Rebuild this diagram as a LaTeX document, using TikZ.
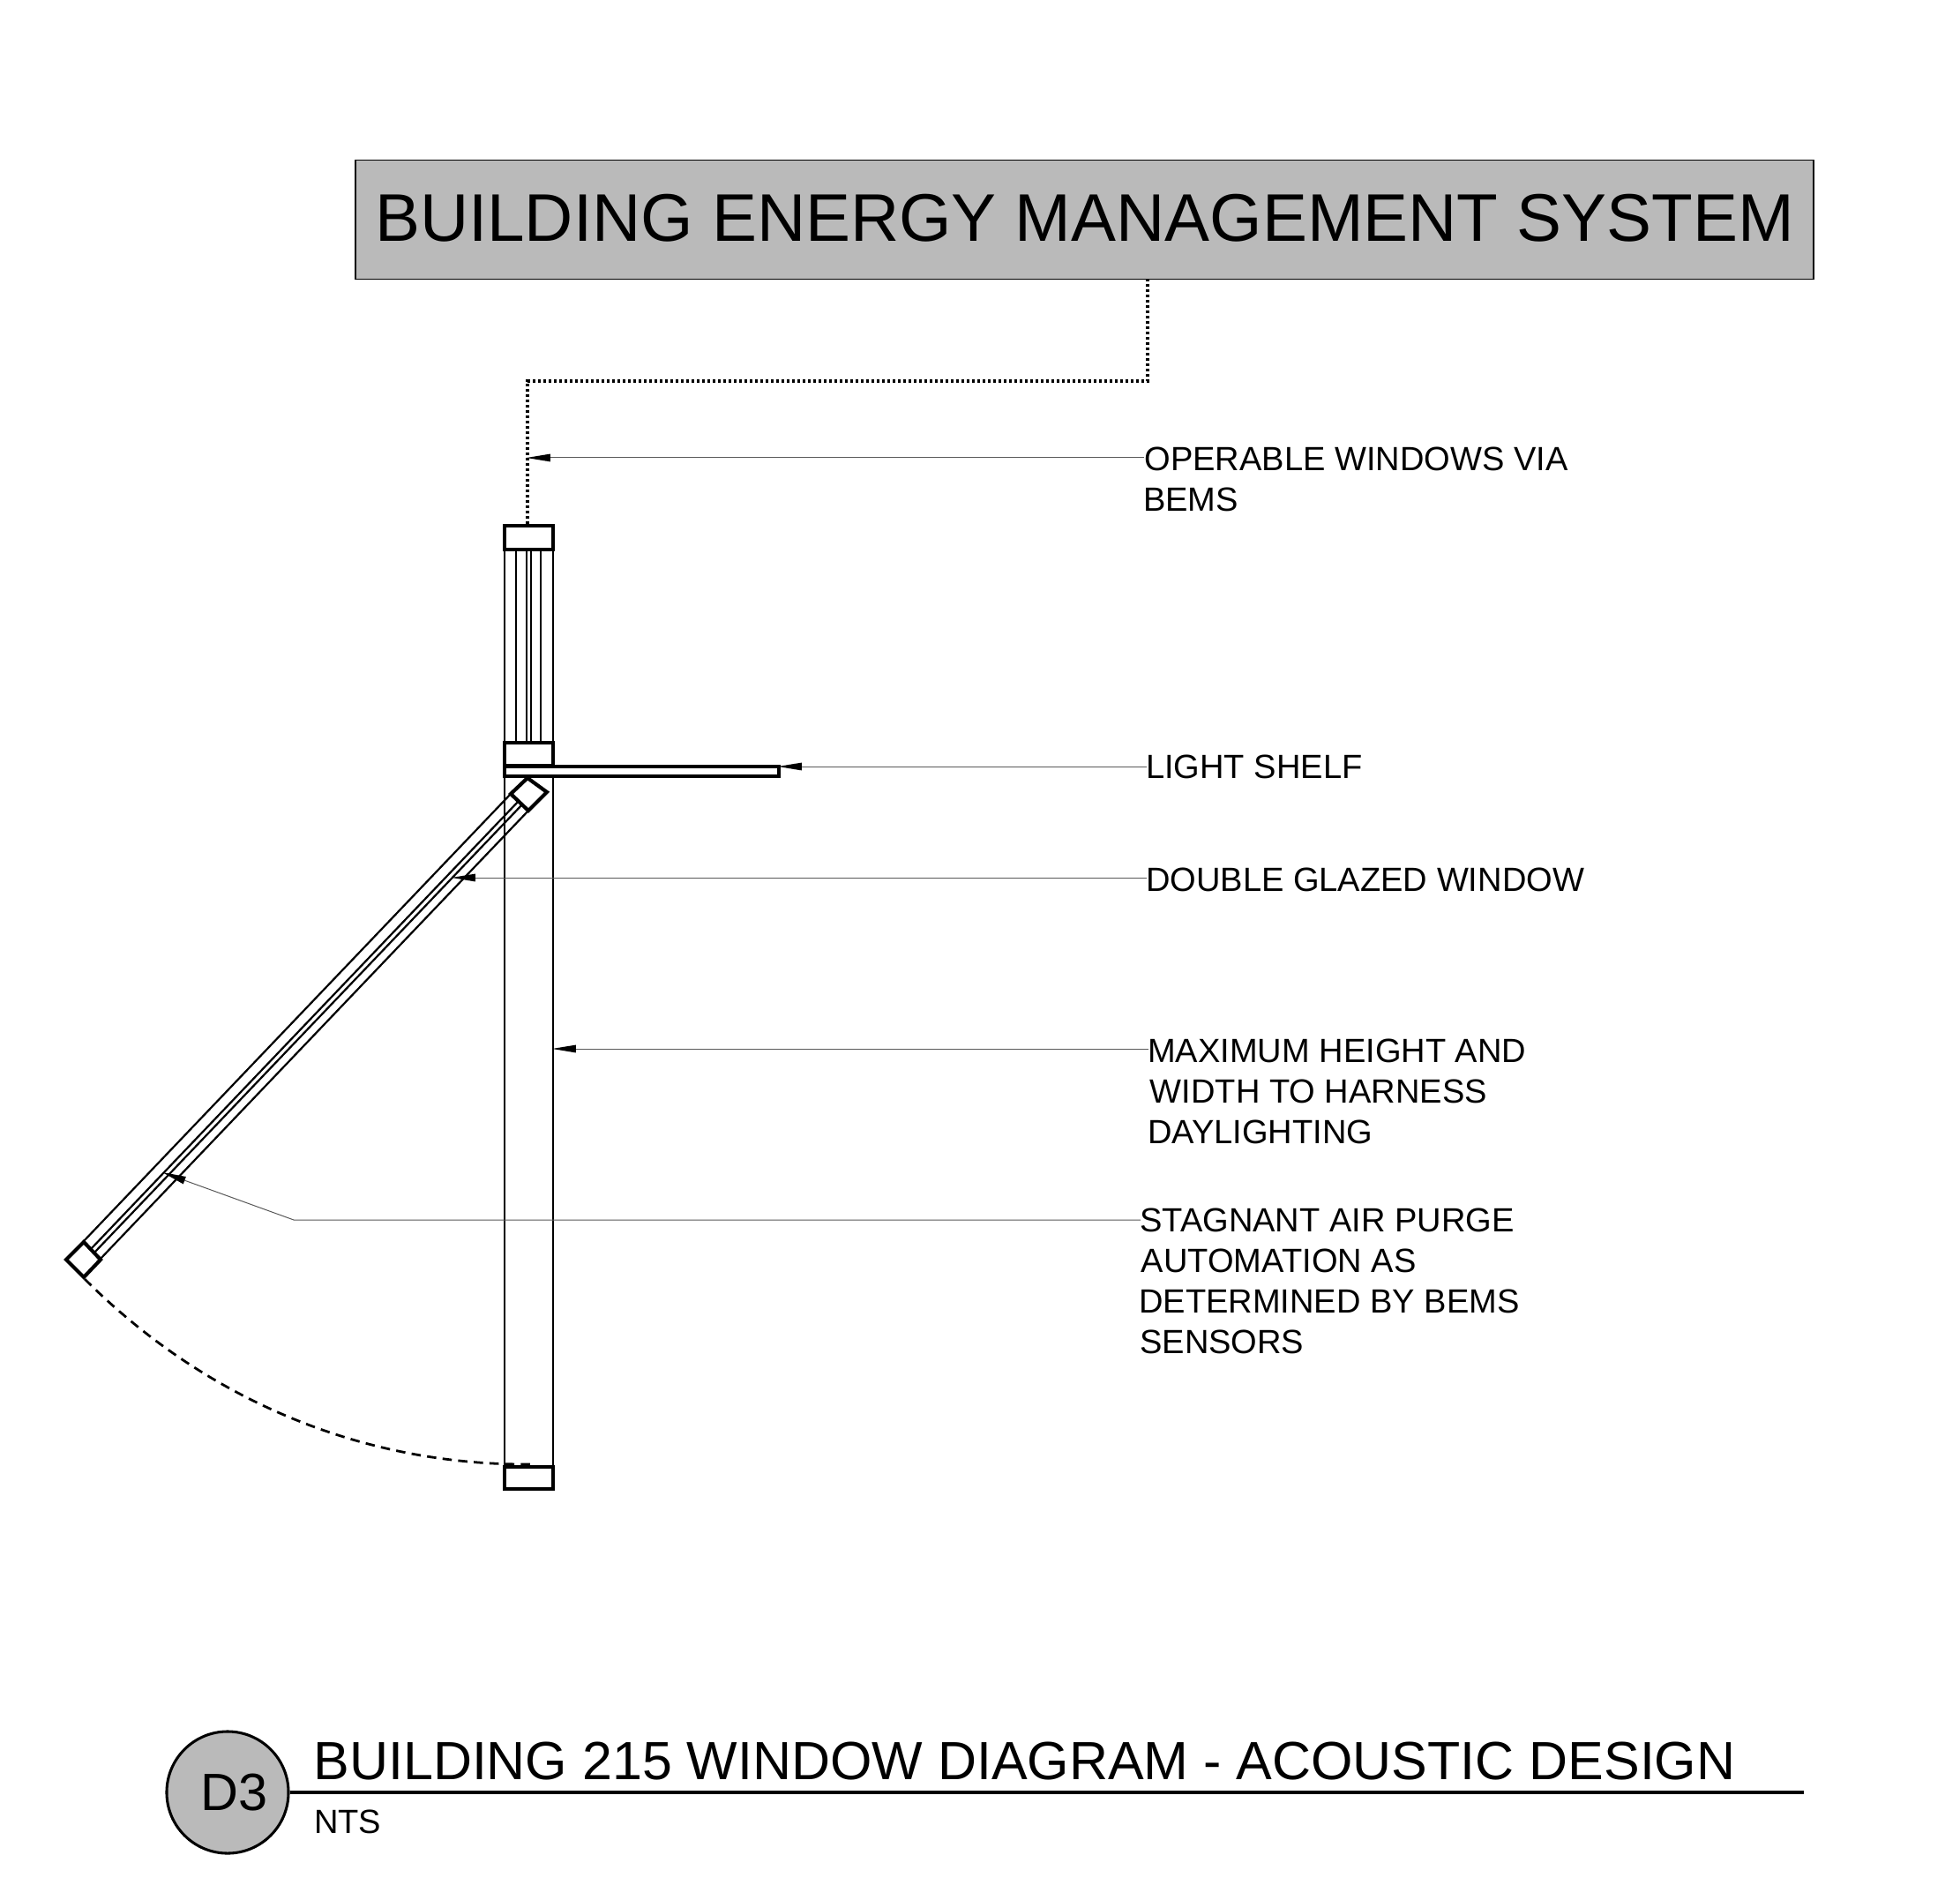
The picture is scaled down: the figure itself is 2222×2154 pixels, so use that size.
\documentclass[tikz,border=0pt]{standalone}
\usepackage{fontspec}
\setmainfont{Liberation Sans}
\usetikzlibrary{arrows.meta}
\definecolor{boxgray}{HTML}{BABABA}
\tikzset{
  x=0.36pt,y=-0.36pt,
  frame/.style={draw=black,line width=1.5pt,line join=miter},
  thinline/.style={draw=black,line width=0.8pt},
  leader/.style={draw=black!65,line width=0.36pt,-{Triangle[length=9.7pt,width=3.2pt,black,line width=0pt]}},
  lab/.style={anchor=west,inner sep=0pt,align=left,font=\fontsize{13.7pt}{16.56pt}\selectfont},
  dotline/.style={draw=black,line width=1.15pt,dash pattern=on 1pt off 1.16pt},
  dashline/.style={draw=black,line width=1pt,dash pattern=on 3.8pt off 2.6pt},
}
\begin{document}
\begin{tikzpicture}
\useasboundingbox (0,0) rectangle (2222,2154);
\fill[white] (0,0) rectangle (2222,2154);
% BEMS box
\node[draw=black,line width=0.6pt,fill=boxgray,minimum width=595pt,minimum height=48.5pt,inner sep=0pt,
  font=\fontsize{27.5pt}{32pt}\selectfont] (bems) at (1229.5,249) {\raisebox{-8.9pt}[0pt][0pt]{BUILDING ENERGY MANAGEMENT SYSTEM}};
% dotted connection
\coordinate (dotA) at (1301,316.5);
\coordinate (dotB) at (1301,432);
\coordinate (dotC) at (598,432);
\coordinate (dotD) at (598,595);
\draw[dotline] (dotA) -- (dotB) -- (dotC) -- (dotD);
% upper fixed window
\foreach \xx in {585,597,602,613}{\draw[thinline] (\xx,623) -- (\xx,842);}
\draw[thinline] (572,623) -- (572,842);
\draw[thinline] (627,623) -- (627,842);
\draw[frame] (572,596) rectangle (627,623);
\draw[frame] (572,842) rectangle (627,868);
% tall opening
\draw[thinline] (572,881) -- (572,1662);
\draw[thinline] (627,881) -- (627,1662);
% light shelf
\draw[frame] (572,869) rectangle (883,880);
\draw[frame] (572,1663) rectangle (627,1688);
% sash
\draw[thinline] (579,900) -- (94,1408);
\draw[thinline] (589,907) -- (103,1416);
\draw[thinline] (593,911) -- (107,1420);
\draw[thinline] (599,919) -- (113,1428);
\draw[frame] (598,882) -- (620,898) -- (599,919) -- (579,900) -- cycle;
\draw[frame] (95,1408) -- (114,1428) -- (95,1448) -- (75,1428) -- cycle;
% swing arc
\draw[dashline] (96,1450) .. controls (232,1586) and (410,1662) .. (604,1660);
% labels
\node[lab] (lab1) at (1295.5,543) {\hspace*{.5pt}OPERABLE WINDOWS VIA\\BEMS};
\node[lab] (lab2) at (1298.6,869) {LIGHT SHELF};
\node[lab] (lab3) at (1298.6,997) {DOUBLE GLAZED WINDOW};
\node[lab] (lab4) at (1300.6,1237) {MAXIMUM HEIGHT AND\\\hspace*{1pt}WIDTH TO HARNESS\\DAYLIGHTING};
\node[lab] (lab5) at (1290.6,1452) {\hspace*{.4pt}STAGNANT AIR PURGE\\\hspace*{1pt}AUTOMATION AS\\DETERMINED BY BEMS\\\hspace*{.4pt}SENSORS};
% leaders
\coordinate (s1) at (1297,519);
\coordinate (t1) at (597,519);
\coordinate (s2) at (1300,869);
\coordinate (t2) at (882,869);
\coordinate (s3) at (1300,995);
\coordinate (t3) at (512,995);
\coordinate (s4) at (1302,1189);
\coordinate (t4) at (626,1189);
\coordinate (s5) at (1293,1383);
\coordinate (b5) at (333,1383);
\coordinate (t5) at (184,1329);
\draw[leader] (s1) -- (t1);
\draw[leader] (s2) -- (t2);
\draw[leader] (s3) -- (t3);
\draw[leader] (s4) -- (t4);
\draw[leader] (s5) -- (b5) -- (t5);
% title block
\node[circle,draw=black,line width=1.1pt,fill=boxgray,minimum size=49.7pt,inner sep=0pt,
  font=\fontsize{21.4pt}{24pt}\selectfont] (tag) at (258,2032) {\hspace*{5.6pt}D3};
\coordinate (ruleEnd) at (2045,2032);
\draw[draw=black,line width=1.1pt] (tag.east) -- (ruleEnd);
\node[anchor=base west,inner sep=0pt,font=\fontsize{21.94pt}{26pt}\selectfont] (title) at (355,2017) {BUILDING 215 WINDOW DIAGRAM - ACOUSTIC DESIGN};
\node[anchor=base west,inner sep=0pt,font=\fontsize{13.7pt}{16pt}\selectfont] (nts) at (355.5,2078) {NTS};
\end{tikzpicture}
\end{document}
